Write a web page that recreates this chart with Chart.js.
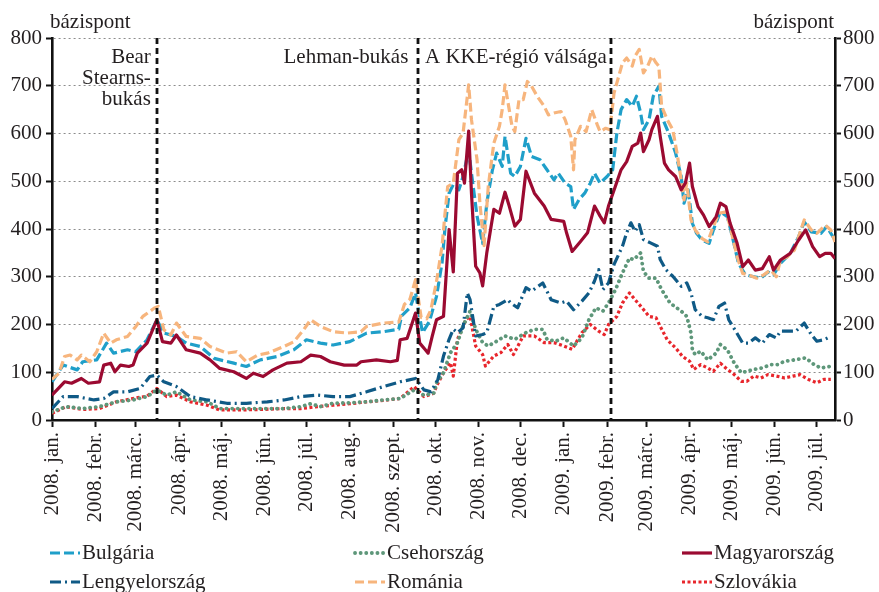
<!DOCTYPE html>
<html><head><meta charset="utf-8">
<script src="https://cdn.jsdelivr.net/npm/chart.js@4"></script>
<style>html,body{margin:0;padding:0;background:#fff}#wrap{width:879px;height:592px;position:relative}</style>
</head><body><div id="wrap"><canvas id="c" width="879" height="592"></canvas></div>
<script>
// x values are days counted from 2008-01-01
const tickDays = [0,31,60,91,121,152,182,213,244,274,305,335,366,397,425,456,486,517,547];
const tickLabels = ["2008. jan.","2008. febr.","2008. márc.","2008. ápr.","2008. máj.","2008. jún.","2008. júl.","2008. aug.","2008. szept.","2008. okt.","2008. nov.","2008. dec.","2009. jan.","2009. febr.","2009. márc.","2009. ápr.","2009. máj.","2009. jún.","2009. júl."];
const lastDay = 560;
const unitLabel = "bázispont";
const seriesNames = ["Bulgária","Csehország","Magyarország","Lengyelország","Románia","Szlovákia"];
const eventDays = [75, 262, 400];
const eventTexts = [["Bear","Stearns-","bukás"],["Lehman-bukás"],["A KKE-régió válsága"]];

const bulgaria = [[0,80],[8,115],[18,105],[22,122],[32,126],[39,161],[44,140],[54,147],[60,143],[68,168],[75,210],[80,182],[89,175],[96,161],[106,154],[116,129],[130,119],[139,112],[149,126],[161,133],[173,147],[182,168],[192,161],[201,157],[213,164],[225,182],[237,185],[248,190],[250,218],[256,235],[260,266],[263,215],[265,183],[270,207],[275,259],[279,330],[281,400],[284,475],[287,493],[291,482],[294,510],[298,566],[300,517],[304,427],[308,370],[311,455],[315,524],[318,559],[322,531],[324,594],[328,517],[331,510],[335,531],[339,590],[343,552],[349,545],[354,524],[359,503],[362,517],[367,496],[371,489],[373,441],[377,462],[381,475],[385,496],[388,517],[392,496],[397,510],[401,524],[404,601],[407,650],[411,671],[415,657],[418,678],[421,643],[423,608],[427,629],[430,678],[434,699],[436,636],[441,601],[446,559],[450,510],[452,454],[455,482],[458,412],[461,391],[465,377],[470,370],[473,398],[478,436],[483,426],[486,391],[491,328],[496,304],[502,300],[507,297],[512,310],[516,304],[521,328],[528,349],[534,384],[538,415],[543,394],[550,391],[554,405],[560,377]];
const csehorszag = [[0,17],[10,28],[22,24],[34,28],[46,38],[58,42],[68,49],[75,63],[82,52],[89,59],[99,42],[111,38],[120,24],[135,24],[149,24],[166,24],[178,28],[185,34],[192,28],[201,35],[213,36],[225,38],[237,42],[249,45],[259,63],[266,52],[273,56],[275,78],[280,99],[285,141],[290,162],[294,197],[299,228],[303,190],[308,162],[312,155],[318,165],[324,176],[331,169],[339,183],[345,190],[351,190],[354,169],[360,165],[366,172],[373,155],[379,172],[384,210],[389,235],[394,228],[398,245],[403,273],[408,308],[413,339],[416,336],[421,350],[423,311],[427,297],[432,297],[436,273],[442,245],[450,228],[454,217],[457,182],[458,147],[460,137],[464,144],[469,126],[475,140],[478,158],[483,147],[488,119],[493,99],[497,102],[502,106],[508,109],[514,116],[519,116],[524,123],[531,126],[539,130],[545,116],[550,109],[556,112]];
const magyarorszag = [[0,52],[9,80],[14,77],[21,87],[26,77],[34,80],[37,115],[42,119],[45,101],[49,115],[55,112],[58,115],[61,140],[68,161],[73,196],[75,210],[79,164],[85,161],[89,178],[96,147],[106,140],[113,126],[120,108],[130,101],[139,87],[144,98],[151,91],[158,105],[168,119],[178,122],[185,136],[192,133],[199,122],[209,115],[218,115],[221,122],[232,126],[242,122],[247,125],[249,168],[254,171],[260,224],[263,161],[267,147],[269,140],[272,176],[275,210],[280,217],[282,308],[284,399],[287,310],[290,517],[293,524],[295,496],[298,605],[300,475],[303,322],[306,308],[308,281],[311,351],[316,441],[320,433],[324,477],[327,448],[331,406],[335,420],[339,521],[345,475],[352,448],[357,420],[366,416],[368,392],[372,353],[378,374],[383,392],[388,448],[392,427],[395,413],[398,448],[403,490],[407,524],[411,541],[415,573],[419,580],[421,601],[423,562],[427,587],[429,608],[433,636],[435,594],[438,538],[441,524],[446,510],[450,482],[453,496],[456,538],[458,489],[462,447],[466,429],[470,405],[475,426],[478,454],[482,447],[485,412],[490,370],[494,321],[498,335],[503,314],[508,317],[513,342],[516,314],[521,335],[528,349],[534,377],[539,398],[544,363],[549,342],[553,349],[557,349],[560,338]];
const lengyelorszag = [[0,24],[8,49],[18,49],[30,42],[37,45],[44,59],[54,59],[63,66],[70,91],[75,94],[80,80],[89,70],[99,49],[111,42],[125,35],[139,35],[154,38],[166,42],[178,49],[190,52],[201,49],[213,49],[225,59],[237,70],[249,80],[260,87],[266,63],[271,59],[276,85],[280,134],[284,169],[287,190],[290,183],[294,193],[297,266],[299,252],[303,176],[308,179],[311,183],[316,238],[320,242],[326,252],[328,245],[333,235],[339,277],[343,270],[351,287],[357,252],[364,245],[368,249],[373,231],[379,249],[384,266],[388,291],[391,315],[394,273],[398,287],[402,326],[408,364],[411,392],[414,413],[417,395],[420,409],[423,378],[428,371],[433,364],[435,336],[439,315],[444,301],[450,280],[454,287],[457,266],[460,231],[465,217],[469,214],[473,210],[477,238],[481,245],[484,210],[489,186],[494,161],[498,161],[503,172],[508,161],[513,179],[518,172],[521,186],[527,186],[532,186],[538,203],[543,179],[547,165],[552,168],[557,175]];
const romania = [[0,85],[5,98],[9,133],[13,136],[18,126],[21,136],[27,122],[32,143],[37,182],[42,161],[46,168],[54,175],[60,196],[65,217],[73,234],[76,238],[80,189],[85,178],[89,203],[96,175],[106,171],[113,154],[125,140],[132,143],[139,122],[147,136],[154,140],[166,154],[173,164],[180,189],[185,210],[192,196],[201,185],[211,182],[221,185],[225,196],[237,203],[248,205],[252,242],[256,253],[260,294],[264,215],[268,212],[271,231],[275,290],[279,365],[281,430],[283,489],[287,496],[291,587],[294,601],[298,702],[300,629],[304,545],[306,455],[309,365],[312,489],[316,580],[320,615],[322,650],[324,702],[327,650],[329,615],[331,604],[334,671],[337,671],[340,709],[343,699],[347,678],[352,657],[355,639],[359,643],[364,646],[367,629],[371,594],[373,524],[374,587],[378,615],[382,604],[386,650],[390,618],[392,604],[396,611],[399,608],[402,685],[404,706],[408,748],[411,758],[415,741],[417,762],[420,776],[423,727],[426,741],[429,762],[432,748],[434,741],[436,657],[440,629],[444,608],[447,559],[450,503],[452,461],[454,496],[457,419],[460,398],[465,380],[469,373],[472,398],[477,433],[482,436],[485,405],[490,342],[494,307],[498,304],[504,297],[509,304],[514,314],[518,300],[521,335],[526,342],[531,356],[534,384],[538,419],[543,398],[547,391],[553,408],[557,398],[560,373]];
const szlovakia = [[0,14],[10,28],[22,22],[34,24],[46,38],[58,45],[68,50],[75,66],[82,49],[89,52],[99,38],[111,31],[120,21],[135,21],[149,22],[166,24],[178,24],[190,28],[201,31],[213,34],[225,38],[237,41],[249,45],[259,70],[266,49],[273,56],[275,71],[280,99],[285,120],[287,92],[290,169],[296,210],[299,217],[303,155],[308,137],[310,113],[316,134],[321,141],[326,158],[330,137],[337,176],[345,176],[352,162],[359,162],[366,155],[372,148],[379,183],[385,200],[391,186],[395,179],[398,200],[404,217],[408,245],[413,266],[417,252],[422,235],[427,217],[432,214],[435,196],[440,168],[446,151],[451,133],[456,123],[459,106],[464,116],[469,109],[473,102],[478,119],[483,106],[488,95],[493,81],[497,81],[502,92],[507,88],[512,95],[518,92],[524,88],[530,92],[535,95],[541,85],[547,78],[552,85],[557,85]];

const seriesData = [bulgaria, csehorszag, magyarorszag, lengyelorszag, romania, szlovakia];

// styling
const FONT = "'Liberation Serif', 'Times New Roman', serif";
const TXT = '#231f20';
const styles = [
  {color:'#1f9fc9', dash:[10,4], width:3.2, cap:'butt', order:2},
  {color:'#5e977a', dash:[0.1,5.5], width:3.8, cap:'round', order:4},
  {color:'#9b0a31', dash:[], width:3.2, cap:'butt', order:0},
  {color:'#0f5a86', dash:[11,4,2,4], width:3.2, cap:'butt', order:3},
  {color:'#f7b57d', dash:[9,4], width:3.2, cap:'butt', order:1},
  {color:'#e8262c', dash:[3,2.5], width:3.2, cap:'butt', order:5}
];

const datasets = seriesNames.map((n,i)=>({
  label:n, data:seriesData[i],
  borderColor:styles[i].color, backgroundColor:styles[i].color,
  borderWidth:styles[i].width, borderDash:styles[i].dash, borderCapStyle:styles[i].cap,
  borderJoinStyle:'round',
  pointRadius:0, tension:0, fill:false, order:styles[i].order
}));

const overlay = {
  id:'overlay',
  afterDatasetsDraw(chart){
    const {ctx, chartArea:a, scales:{x}} = chart;
    ctx.save();
    ctx.strokeStyle='#111'; ctx.lineWidth=2.8; ctx.setLineDash([6,4]);
    eventDays.forEach(d=>{
      const px = Math.round(x.getPixelForValue(d));
      ctx.beginPath(); ctx.moveTo(px,a.top); ctx.lineTo(px,a.bottom); ctx.stroke();
    });
    ctx.restore();
  },
  afterDraw(chart){
    const {ctx, chartArea:a, scales:{x}} = chart;
    ctx.save();
    ctx.font = '21px '+FONT; ctx.fillStyle=TXT; ctx.textBaseline='middle';
    // event labels
    const p0 = x.getPixelForValue(eventDays[0]);
    ctx.textAlign='right';
    eventTexts[0].forEach((t,k)=>ctx.fillText(t, p0-6, a.top+19+k*21));
    const p1 = x.getPixelForValue(eventDays[1]);
    ctx.fillText(eventTexts[1][0], p1-10, a.top+19);
    const p2 = x.getPixelForValue(eventDays[2]);
    ctx.textAlign='left';
    ctx.fillText(eventTexts[2][0], 425, a.top+19);
    // unit labels
    ctx.textAlign='left'; ctx.fillText(unitLabel, 50, 22);
    ctx.textAlign='right'; ctx.fillText(unitLabel, 834, 22);
    // legend
    const colX=[50,355,682], rowY=[553,582];
    chart.data.datasets.forEach((ds,i)=>{
      const cx=colX[i%3], cy=rowY[Math.floor(i/3)];
      ctx.save();
      ctx.strokeStyle=ds.borderColor; ctx.lineWidth=ds.borderWidth; ctx.lineCap=ds.borderCapStyle;
      ctx.setLineDash(ds.borderDash);
      ctx.beginPath(); ctx.moveTo(cx, cy); ctx.lineTo(cx+30, cy); ctx.stroke();
      ctx.restore();
      ctx.textAlign='left'; ctx.fillStyle=TXT;
      ctx.fillText(ds.label, cx+32, cy);
    });
    ctx.restore();
  }
};

const tickFont = {family:FONT, size:21};
new Chart(document.getElementById('c'), {
  type:'line',
  data:{datasets},
  plugins:[overlay],
  options:{
    responsive:false, animation:false, devicePixelRatio:1,
    layout:{padding:{top:38,left:0,right:0,bottom:0}},
    plugins:{legend:{display:false}, tooltip:{enabled:false}},
    scales:{
      x:{
        type:'linear', min:0, max:lastDay, position:'bottom',
        afterBuildTicks:s=>{ s.ticks = tickDays.map(v=>({value:v})); },
        afterFit:s=>{ s.height = 172; },
        ticks:{autoSkip:false, maxRotation:90, minRotation:90, padding:5, color:TXT, font:tickFont,
          callback:(v,i)=>tickLabels[i]},
        grid:{drawOnChartArea:false, tickLength:7, tickColor:'#111', tickWidth:2, tickBorderDash:[]},
        border:{display:true, color:'#111', width:2.6}
      },
      y:{
        position:'left', min:0, max:800,
        afterFit:s=>{ s.width = 52; },
        ticks:{stepSize:100, padding:4, color:TXT, font:tickFont},
        grid:{color:c=>c.tick && c.tick.value===0 ? 'rgba(0,0,0,0)' : '#8c8c8c', lineWidth:1,
          tickLength:6, tickColor:'#111', tickWidth:2, tickBorderDash:[]},
        border:{display:true, color:'#111', width:2.6, dash:[2,3]}
      },
      y2:{
        position:'right', min:0, max:800,
        afterFit:s=>{ s.width = 44; },
        ticks:{stepSize:100, padding:2, color:TXT, font:tickFont},
        grid:{drawOnChartArea:false, tickLength:6, tickColor:'#111', tickWidth:2, tickBorderDash:[]},
        border:{display:true, color:'#111', width:2.6}
      }
    }
  }
});
</script></body></html>
